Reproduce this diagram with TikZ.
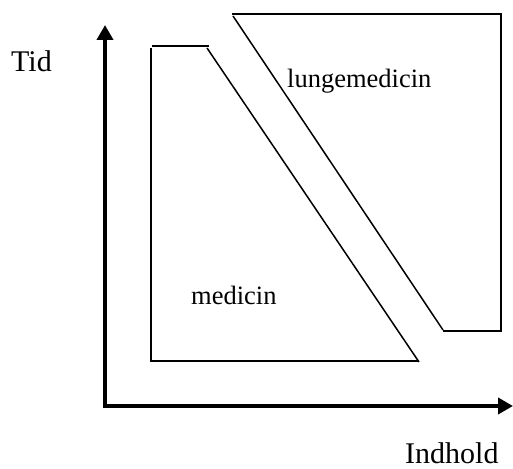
\documentclass[tikz,border=0pt]{standalone}
\usepackage{fontspec}
\setmainfont{Liberation Serif}
\usetikzlibrary{arrows.meta}
\begin{document}
\begin{tikzpicture}[x=1pt,y=1pt,
  thin line/.style={line width=1.5pt, black},
  axis line/.style={line width=4pt, black, line join=miter},
  axislabel/.style={inner sep=0pt, anchor=base west, font=\fontsize{30}{34}\selectfont},
  arealabel/.style={inner sep=0pt, anchor=base west, font=\fontsize{26.5}{30}\selectfont}]
\useasboundingbox (0,0) rectangle (513,468);
% axes
\coordinate (ytip) at (105,443);
\coordinate (origin) at (105,62);
\coordinate (xtip) at (513,62);
\draw[axis line, {Triangle[length=15pt,width=16pt]}-{Triangle[length=15pt,width=16pt]}] (ytip) -- (origin) -- (xtip);
% medicin area
\coordinate (m1) at (151,420);
\coordinate (m2) at (151,107);
\coordinate (m3) at (419,107);
\coordinate (m4) at (152,422);
\coordinate (m5) at (209,422);
\coordinate (m6) at (207,420);
\coordinate (m7) at (419,106);
\draw[thin line] (m1) -- (m2) -- (m3);
\draw[thin line] (m4) -- (m5);
\draw[thin line] (m6) -- (m7);
% lungemedicin area
\coordinate (l1) at (232,454);
\coordinate (l2) at (501,454);
\coordinate (l3) at (501,137);
\coordinate (l4) at (443,137);
\coordinate (l5) at (233,452);
\coordinate (l6) at (443,138);
\draw[thin line] (l1) -- (l2) -- (l3) -- (l4);
\draw[thin line] (l5) -- (l6);
% labels
\node[axislabel] (tid) at (11,396) {Tid};
\node[axislabel] (indhold) at (405,5) {Indhold};
\node[arealabel] (lunge) at (287,380) {lungemedicin};
\node[arealabel] (med) at (191,163) {medicin};
\end{tikzpicture}
\end{document}
